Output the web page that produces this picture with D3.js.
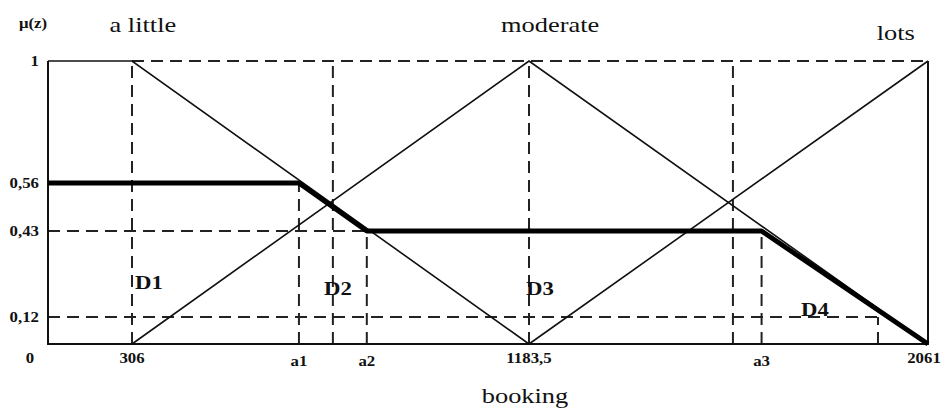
<html>
<head>
    <meta charset="UTF-8" />
    <script src="https://d3js.org/d3.v7.min.js"></script>
    <style>
        body { margin: 0; background: white; }
        text { font-family: "Liberation Serif", "Times New Roman", serif; fill: #111; }
        .tick-label { font-weight: bold; font-size: 14px; }
        .term-label { font-size: 22px; }
        .zone-label { font-weight: bold; font-size: 19px; }
        .guide { stroke: #222; stroke-width: 2; stroke-dasharray: 12,7; fill: none; }
        .term { stroke: #111; stroke-width: 1.6; fill: none; }
        .result { stroke: #000; stroke-width: 5; fill: none; stroke-linejoin: round; }
        .frame { stroke: #111; stroke-width: 2; fill: none; }
    </style>
</head>
<body>
    <svg id="svg" width="941" height="410"></svg>

    <script>
        // ---- data ----
        const xTickValues = [0, 306, 675, 825, 1183.5, 1695, 2061];
        const xTickLabels = ["0", "306", "a1", "a2", "1183,5", "a3", "2061"];
        const yTickValues = [1, 0.56, 0.43, 0.12];
        const yTickLabels = ["1", "0,56", "0,43", "0,12"];

        const termNames = ["a little", "moderate", "lots"];
        const aLittle = [[0, 1], [306, 1], [1183.5, 0]];
        const moderate = [[306, 0], [1183.5, 1], [2061, 0]];
        const lots = [[1183.5, 0], [2061, 1]];

        // aggregated output (thick line)
        const aggregated = [[0, 0.56], [675, 0.56], [825, 0.43], [1695, 0.43], [2061, 0]];

        // dashed guide lines: [from, to, at]
        const hGuides = [[306, 2061, 1], [0, 825, 0.43], [0, 1951, 0.12]];
        const vGuides = [[306, 0, 1], [675, 0, 0.56], [750, 0, 1], [825, 0, 0.43],
                         [1183.5, 0, 1], [1632, 0, 1], [1695, 0, 0.43], [1951, 0, 0.12]];

        const zoneNames = ["D1", "D2", "D3", "D4"];
        const zoneX = [306, 724, 1183.5, 1775];
        const zoneY = [0.22, 0.2, 0.2, 0.125];

        // ---- layout ----
        const svg = d3.select("svg#svg");
        const stretch = 1.2;   // text in the original is a bit wide

        // schematic axes: segments are not to scale, so use piecewise scales
        const x = d3.scaleLinear().domain([0, 306, 1183.5, 2061]).range([48, 132, 529, 928]);
        const y = d3.scaleLinear().domain([0, 0.12, 0.43, 0.56, 1]).range([344, 317, 231, 183, 61]);

        const line = d3.line().x(d => x(d[0])).y(d => y(d[1]));

        function stretchedText(sel, px, py) {
            return sel.attr("transform", (d, i) => `translate(${px(d, i)},${py(d, i)}) scale(${stretch},1)`);
        }

        // guides
        svg.append("g").selectAll("line.h").data(hGuides)
            .join("line").attr("class", "guide")
            .attr("x1", d => x(d[0])).attr("x2", d => x(d[1]))
            .attr("y1", d => y(d[2])).attr("y2", d => y(d[2]));
        svg.append("g").selectAll("line.v").data(vGuides)
            .join("line").attr("class", "guide")
            .attr("x1", d => x(d[0])).attr("x2", d => x(d[0]))
            .attr("y1", d => y(d[1])).attr("y2", d => y(d[2]));

        // frame: left axis, bottom axis, right edge
        svg.append("path").attr("class", "frame")
            .attr("d", line([[0, 1], [0, 0], [2061, 0], [2061, 1]]));

        // membership functions
        svg.append("g").selectAll("path").data([aLittle, moderate, lots])
            .join("path").attr("class", "term").attr("d", line);

        // aggregated result
        svg.append("path").attr("class", "result").attr("d", line(aggregated));

        // y tick labels
        stretchedText(svg.append("g").selectAll("text").data(yTickValues)
            .join("text").attr("class", "tick-label")
            .attr("text-anchor", "end")
            .text((d, i) => yTickLabels[i]),
            d => 39, d => y(d) + 5);

        // x tick labels
        stretchedText(svg.append("g").selectAll("text").data(xTickValues)
            .join("text").attr("class", "tick-label")
            .attr("text-anchor", "middle")
            .text((d, i) => xTickLabels[i]),
            d => d === 0 ? x(d) - 18 : (d === 2061 ? x(d) - 4 : x(d)),
            (d, i) => xTickLabels[i].startsWith("a") ? 366 : 363);

        // mu label
        stretchedText(svg.append("text").datum(0).attr("class", "tick-label")
            .attr("text-anchor", "start").text("μ(z)"),
            d => 19, d => 28);

        // term labels
        const termX = [330, 1230, 1990];
        const termBase = [32, 32, 40];
        stretchedText(svg.append("g").selectAll("text").data(termNames)
            .join("text").attr("class", "term-label")
            .attr("text-anchor", "middle").text(d => d),
            (d, i) => x(termX[i]), (d, i) => termBase[i]);

        // zone labels
        stretchedText(svg.append("g").selectAll("text").data(zoneNames)
            .join("text").attr("class", "zone-label")
            .attr("text-anchor", "start").text(d => d),
            (d, i) => x(zoneX[i]) + (i === 2 ? -3 : 3), (d, i) => y(zoneY[i]));

        // x axis title
        stretchedText(svg.append("text").datum(0).attr("class", "term-label")
            .attr("text-anchor", "middle").text("booking"),
            d => 525, d => 403);
    </script>
</body>
</html>
